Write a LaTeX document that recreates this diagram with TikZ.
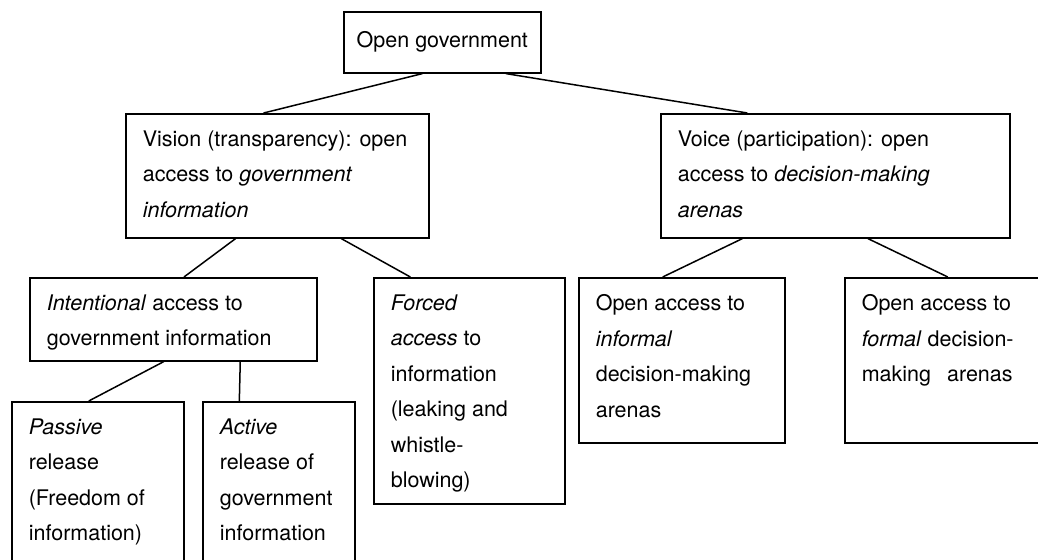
\documentclass[tikz,border=0pt]{standalone}
\usepackage{fontspec}
\setmainfont{TeX Gyre Heros}
\usetikzlibrary{calc}
\newcommand{\boxtext}[3]{\parbox[c][#2][t]{#1}{\raggedright #3}}

\begin{document}
\begin{tikzpicture}[x=0.5pt, y=-0.5pt,
	every node/.style={font=\fontsize{10.75pt}{17.75pt}\selectfont},
	box/.style={draw, line width=0.8pt, anchor=north west, inner sep=8.5pt},
	link/.style={line width=0.75pt}]
	\clip (0,0) rectangle (1038,560);
	\node[box, inner sep=0pt, minimum width=98.5pt, minimum height=30.5pt] (og) at (343,11) {Open government};
	\node[box] (vis) at (125,113) {\boxtext{134.5pt}{45pt}{Vision (transparency): open\\ access to \textit{government}\\ \textit{information}}};
	\node[box] (voi) at (660,113) {\boxtext{157.5pt}{45pt}{Voice (participation): open\\ access to \textit{decision-making}\\ \textit{arenas}}};
	\node[box] (int) at (29,277) {\boxtext{126.5pt}{24.5pt}{\textit{Intentional} access to\\ government information}};
	\node[box] (frc) at (373,277) {\boxtext{78.5pt}{96pt}{\textit{Forced}\\ \textit{access} to\\ information\\ (leaking and\\ whistle-\\ blowing)}};
	\node[box] (inf) at (578,277) {\boxtext{86pt}{65.5pt}{Open access to\\ \textit{informal}\\ decision-making\\ arenas}};
	\node[box] (frm) at (844,277) {\boxtext{86pt}{65.5pt}{Open access to\\ \textit{formal} decision-\\ making\hspace{8pt}arenas}};
	\node[box] (pas) at (11,401) {\boxtext{69pt}{83pt}{\textit{Passive}\\ release\\ (Freedom of\\ information)}};
	\node[box] (act) at (202,401) {\boxtext{59pt}{83pt}{\textit{Active}\\ release of\\ government\\ information}};
	\foreach \a/\fa/\b/\fb in {og/0.40/vis/0.455, og/0.82/voi/0.249, vis/0.363/int/0.537, vis/0.71/frc/0.194,
		voi/0.235/inf/0.408, voi/0.593/frm/0.5, int/0.467/pas/0.448, int/0.732/act/0.243}
		\draw[link] ($(\a.south west)!\fa!(\a.south east)$) -- ($(\b.north west)!\fb!(\b.north east)$);
\end{tikzpicture}
\end{document}
